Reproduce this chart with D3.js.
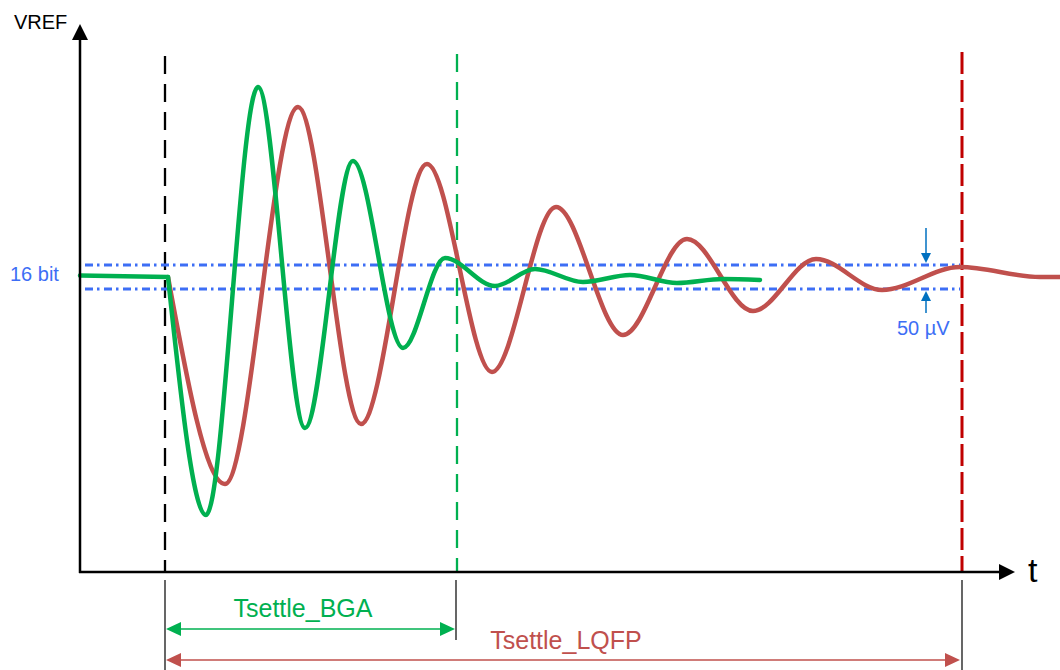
<!DOCTYPE html>
<html>
<head>
<meta charset="utf-8">
<script src="https://cdn.jsdelivr.net/npm/d3@7"></script>
<style>
  html, body { margin: 0; padding: 0; background: #fff; }
  svg { display: block; font-family: Arial, "Liberation Sans", sans-serif; }
</style>
</head>
<body>
<div id="js-canvas"></div>
<script>
"use strict";

// Time axis: 0 = the step, one unit = a tenth of a division.
// Value axis: offset from the settled VREF level.
const greenT = [0.3, 4.1, 9.3, 14.0, 18.8, 23.8, 28.0, 33.0, 37.0, 41.8, 46.5, 51.2, 55.8, 59.5];
const greenV = [0.0, -23.8, 19.0, -15.1, 11.6, -7.1, 1.9, -0.9, 0.8, -0.5, 0.2, -0.6, -0.2, -0.3];
const greenPreT = [-8.5, 0.3];
const greenPreV = [0.15, 0.0];

const redT = [0.3, 6.0, 13.3, 19.6, 26.2, 32.7, 39.1, 45.8, 52.2, 58.8, 65.1, 71.7, 79.5, 87.5, 89.5];
const redV = [0.0, -20.7, 17.0, -14.7, 11.3, -9.5, 7.0, -5.8, 3.8, -3.4, 1.8, -1.3, 1.0, 0.0, 0.0];

// 16 bit error band (+/- half of 50 uV)
const bandLevels = [1.2, -1.2];

// Markers
const stepTime = 0;
const bgaSettle = 29.2;
const lqfpSettle = 79.7;

const labels = {
  yAxis: "VREF",
  xAxis: "t",
  band: "16 bit",
  bandWidth: "50 \u00b5V",
  bga: "Tsettle_BGA",
  lqfp: "Tsettle_LQFP"
};

const width = 1060;
const height = 670;

const green = "#00b050";
const red = "#c0504d";
const darkRed = "#c00000";
const blue = "#3d6ef5";
const arrowBlue = "#0070c0";

const x = d3.scaleLinear().domain([-8.5, 89.5]).range([80, 1060]);
const y = d3.scaleLinear().domain([-29.5, 25.5]).range([572, 22]);

const svg = d3.select("#js-canvas")
  .append("svg")
    .attr("width", width)
    .attr("height", height);

function arrowHead(g, tipX, tipY, dir, len, half, color) {
  // dir: "up", "down", "left", "right"
  let pts;
  if (dir === "up") pts = [[tipX, tipY], [tipX - half, tipY + len], [tipX + half, tipY + len]];
  else if (dir === "down") pts = [[tipX, tipY], [tipX - half, tipY - len], [tipX + half, tipY - len]];
  else if (dir === "left") pts = [[tipX, tipY], [tipX + len, tipY - half], [tipX + len, tipY + half]];
  else pts = [[tipX, tipY], [tipX - len, tipY - half], [tipX - len, tipY + half]];
  g.append("polygon")
    .attr("points", pts.map(function (p) { return p.join(","); }).join(" "))
    .attr("fill", color);
}

// vertical dashed markers
function marker(t, color, w, top, dash) {
  svg.append("line")
    .attr("x1", x(t)).attr("x2", x(t))
    .attr("y1", top).attr("y2", y(-29.5))
    .attr("stroke", color)
    .attr("stroke-width", w)
    .attr("stroke-dasharray", dash);
}
marker(stepTime, "#000", 2.3, 56, "18,10");
marker(bgaSettle, green, 2.3, 54, "18,10");
marker(lqfpSettle, darkRed, 3, 52, "22,6");

// error band
svg.append("g")
  .selectAll("line")
  .data(bandLevels)
  .enter()
  .append("line")
    .attr("x1", x(-8.0)).attr("x2", x(79.5))
    .attr("y1", function (d) { return y(d); })
    .attr("y2", function (d) { return y(d); })
    .attr("stroke", blue)
    .attr("stroke-width", 2.8)
    .attr("stroke-dasharray", "8,4,2.5,4.5");

// curves
const line = d3.line()
  .x(function (d) { return x(d[0]); })
  .y(function (d) { return y(d[1]); })
  .curve(d3.curveMonotoneX);

const straight = d3.line()
  .x(function (d) { return x(d[0]); })
  .y(function (d) { return y(d[1]); });

svg.append("path")
  .datum(redT.map(function (t, i) { return [t, redV[i]]; }))
  .attr("d", line)
  .attr("fill", "none")
  .attr("stroke", red)
  .attr("stroke-width", 4.5)
  .attr("stroke-linejoin", "round");

svg.append("path")
  .datum(greenPreT.map(function (t, i) { return [t, greenPreV[i]]; }))
  .attr("d", straight)
  .attr("fill", "none")
  .attr("stroke", green)
  .attr("stroke-width", 4.5)
  .attr("stroke-linecap", "round");

svg.append("path")
  .datum(greenT.map(function (t, i) { return [t, greenV[i]]; }))
  .attr("d", line)
  .attr("fill", "none")
  .attr("stroke", green)
  .attr("stroke-width", 4.5)
  .attr("stroke-linecap", "round")
  .attr("stroke-linejoin", "round");

// axes
const axes = svg.append("g");
axes.append("line")
  .attr("x1", x(-8.5)).attr("x2", x(-8.5))
  .attr("y1", y(-29.5) + 1).attr("y2", 38)
  .attr("stroke", "#000").attr("stroke-width", 2.5);
arrowHead(axes, x(-8.5), 24, "up", 16, 8, "#000");
axes.append("line")
  .attr("x1", x(-8.5) - 1).attr("x2", x(83.5))
  .attr("y1", y(-29.5)).attr("y2", y(-29.5))
  .attr("stroke", "#000").attr("stroke-width", 2.5);
arrowHead(axes, x(85), y(-29.5), "right", 16, 8, "#000");

axes.append("text")
  .attr("x", 14).attr("y", 29)
  .attr("font-size", 20)
  .attr("fill", "#000")
  .text(labels.yAxis);
axes.append("text")
  .attr("x", x(86.3)).attr("y", 582)
  .attr("font-size", 34)
  .attr("fill", "#000")
  .text(labels.xAxis);

// band labels
svg.append("text")
  .attr("x", 10).attr("y", 281)
  .attr("font-size", 20)
  .attr("fill", blue)
  .text(labels.band);
svg.append("text")
  .attr("x", 897).attr("y", 335)
  .attr("font-size", 20)
  .attr("fill", blue)
  .text(labels.bandWidth);

const bandArrows = svg.append("g");
const ax = x(76.1);
bandArrows.append("line")
  .attr("x1", ax).attr("x2", ax)
  .attr("y1", 228).attr("y2", y(bandLevels[0]) - 8)
  .attr("stroke", arrowBlue).attr("stroke-width", 1.5);
arrowHead(bandArrows, ax, y(bandLevels[0]) - 2, "down", 10, 5, arrowBlue);
bandArrows.append("line")
  .attr("x1", ax).attr("x2", ax)
  .attr("y1", 313).attr("y2", y(bandLevels[1]) + 8)
  .attr("stroke", arrowBlue).attr("stroke-width", 1.5);
arrowHead(bandArrows, ax, y(bandLevels[1]) + 2, "up", 10, 5, arrowBlue);

// settling time dimensions
const dims = svg.append("g");
dims.append("line")
  .attr("x1", x(stepTime)).attr("x2", x(stepTime))
  .attr("y1", 580).attr("y2", 670)
  .attr("stroke", "#000").attr("stroke-width", 1.2);
dims.append("line")
  .attr("x1", x(bgaSettle) - 1).attr("x2", x(bgaSettle) - 1)
  .attr("y1", 580).attr("y2", 640)
  .attr("stroke", "#000").attr("stroke-width", 1.2);
dims.append("line")
  .attr("x1", x(lqfpSettle)).attr("x2", x(lqfpSettle))
  .attr("y1", 580).attr("y2", 670)
  .attr("stroke", "#000").attr("stroke-width", 1.2);

function dimArrow(t0, t1, yy, color) {
  dims.append("line")
    .attr("x1", x(t0) + 12).attr("x2", x(t1) - 12)
    .attr("y1", yy).attr("y2", yy)
    .attr("stroke", color).attr("stroke-width", 1.5);
  arrowHead(dims, x(t0) + 1, yy, "left", 15, 7, color);
  arrowHead(dims, x(t1) - 2, yy, "right", 15, 7, color);
}
dimArrow(stepTime, bgaSettle, 629, green);
dimArrow(stepTime, lqfpSettle, 660, red);

dims.append("text")
  .attr("x", (x(stepTime) + x(bgaSettle)) / 2 - 8).attr("y", 617)
  .attr("text-anchor", "middle")
  .attr("font-size", 25)
  .attr("fill", green)
  .text(labels.bga);
dims.append("text")
  .attr("x", 566).attr("y", 649)
  .attr("text-anchor", "middle")
  .attr("font-size", 25)
  .attr("fill", red)
  .text(labels.lqfp);
</script>
</body>
</html>
